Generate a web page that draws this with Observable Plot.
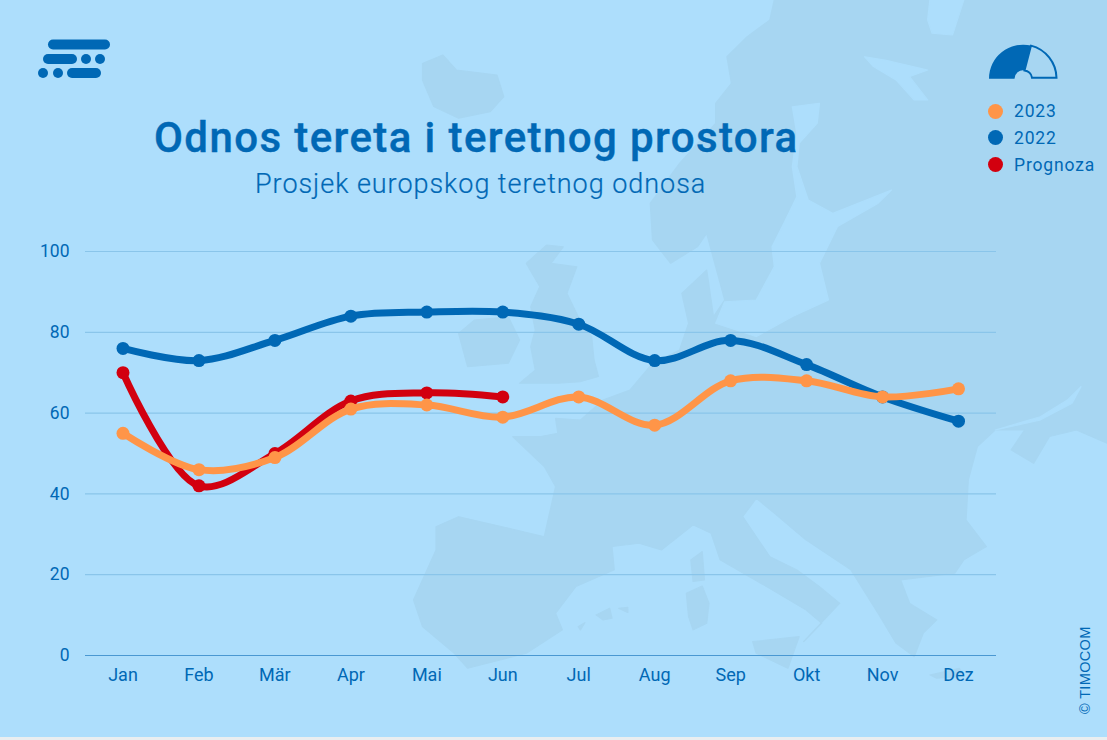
<!DOCTYPE html>
<html><head><meta charset="utf-8">
<script src="https://cdn.jsdelivr.net/npm/d3@7"></script>
<script src="https://cdn.jsdelivr.net/npm/@observablehq/plot@0.6"></script>
<style>
html,body{margin:0;padding:0;background:#e9eef0;overflow:hidden}
#page{position:relative;width:1107px;height:737px;background:#addefc;overflow:hidden;font-family:Roboto,sans-serif;color:#0068b5}
#page svg{position:absolute;left:0;top:0}
.t{position:absolute;white-space:nowrap;line-height:1}
#title{left:154px;top:117px;font-size:42px;font-weight:500;letter-spacing:1.4px;-webkit-text-stroke:.4px #0068b5}
#sub{left:255px;top:171px;font-size:27px;letter-spacing:.96px;font-weight:300;-webkit-text-stroke:.2px #0068b5}
.lg{left:1014px;font-size:17.5px;letter-spacing:.85px}
.dot{position:absolute;left:988px;width:15px;height:15px;border-radius:50%}
#copy{left:1085px;top:714px;font-size:14.5px;font-family:"Liberation Sans",sans-serif;transform-origin:0 0;transform:rotate(-90deg) translateY(-7px);letter-spacing:.35px}
</style></head><body>
<div id="page">
<svg id="map" width="1107" height="737"><g id="land" transform="translate(400,0) scale(0.451,0.3333)"></g></svg>
<svg id="logo" width="1107" height="120" fill="#0068b5">
<rect x="48" y="39.5" width="62" height="10" rx="5"/>
<rect x="43" y="54" width="34" height="10" rx="5"/><circle cx="86" cy="59" r="5"/><circle cx="100" cy="59" r="5"/>
<circle cx="43" cy="73" r="5"/><circle cx="58" cy="73" r="5"/><rect x="67" y="68" width="34" height="10" rx="5"/>
<path d="M989 78.7A34 34 0 0 1 1031 45.6L1024.5 70.5A8.5 8.5 0 0 0 1014.5 78.7Z"/>
<path d="M1031 45.6A34 34 0 0 1 1056.5 77.7L1032 77.7A8.5 8.5 0 0 0 1024.5 70.5Z" fill="none" stroke="#0068b5" stroke-width="2"/>
</svg>
<div id="chart"></div>
<div class="t" id="title">Odnos tereta i teretnog prostora</div>
<div class="t" id="sub">Prosjek europskog teretnog odnosa</div>
<div class="dot" style="top:104px;background:#ff9548"></div><div class="t lg" style="top:103px">2023</div>
<div class="dot" style="top:130px;background:#0068b5"></div><div class="t lg" style="top:130px">2022</div>
<div class="dot" style="top:157px;background:#d2000f"></div><div class="t lg" style="top:157px">Prognoza</div>
<div class="t" id="copy">© TIMOCOM</div>
</div>
<script>
const months = ["Jan","Feb","Mär","Apr","Mai","Jun","Jul","Aug","Sep","Okt","Nov","Dez"];
const values2023 = [55,46,49,61,62,59,64,57,68,68,64,66];
const values2022 = [76,73,78,84,85,85,82,73,78,72,64,58];
const valuesPrognoza = [70,42,50,63,65,64];
const yTicks = [0,20,40,60,80,100];
const blue = "#0068b5", orange = "#ff9548", red = "#d2000f";

const toRows = (vals) => vals.map((v,i) => ({month: months[i], value: v}));
const series = (vals, color) => [
  Plot.line(toRows(vals), {x:"month", y:"value", stroke:color, strokeWidth:7, curve:"catmull-rom"}),
  Plot.dot(toRows(vals), {x:"month", y:"value", fill:color, r:6.5})
];

const chart = Plot.plot({
  width:1107, height:737,
  marginLeft:85, marginRight:111, marginTop:251, marginBottom:82,
  style:{background:"transparent", fontFamily:"Roboto,sans-serif"},
  x:{type:"point", domain:months, range:[122.5,958], padding:0, round:false, label:null},
  y:{domain:[0,100], label:null},
  marks:[
    Plot.ruleY(yTicks.filter(d=>d>0), {stroke:"#8ac5ea", strokeWidth:1.2}),
    Plot.ruleY([0], {stroke:"#4a98d2", strokeWidth:1.2}),
    Plot.axisY({ticks:yTicks, tickSize:0, tickPadding:16, fontSize:17.5, fill:blue, label:null, marginLeft:85}),
    Plot.axisX({domain:months, tickSize:0, tickPadding:13, fontSize:18, fill:blue, label:null}),
    ...series(values2022, blue),
    ...series(valuesPrognoza, red),
    ...series(values2023, orange)
  ]
});
document.getElementById("chart").appendChild(chart);

// Decorative backdrop map of Europe, traced in the zoom's coordinate frame
const landFill = "#a7d6f2", seaFill = "#addefc";
const landShapes = [
 [[830,0],[820,60],[770,110],[725,170],[735,250],[700,310],[700,370],[620,490],[555,610],[560,720],[600,790],[660,740],[680,700],[700,800],[720,900],[695,950],[680,810],[625,880],[640,970],[620,1050],[560,1090],[510,1170],[450,1200],[400,1260],[345,1255],[350,1300],[310,1310],[250,1310],[320,1400],[345,1460],[320,1610],[130,1550],[80,1580],[80,1650],[30,1800],[50,1880],[120,1960],[150,2005],[280,1960],[360,1890],[345,1840],[390,1760],[475,1710],[470,1640],[530,1630],[580,1650],[650,1575],[690,1600],[710,1680],[800,1750],[900,1830],[935,1870],[895,1925],[940,1860],[975,1810],[930,1760],[880,1710],[820,1670],[760,1550],[790,1495],[830,1540],[900,1620],[1000,1710],[1060,1840],[1100,1930],[1140,1970],[1160,1900],[1190,1860],[1130,1810],[1110,1740],[1230,1720],[1250,1680],[1300,1640],[1255,1560],[1260,1440],[1280,1340],[1320,1290],[1385,1290],[1355,1350],[1405,1390],[1440,1310],[1500,1290],[1568,1330],[1568,0]],
 [[325,735],[362,740],[335,790],[392,800],[370,880],[395,950],[425,1010],[430,1080],[440,1130],[400,1145],[350,1150],[265,1150],[300,1110],[290,1040],[300,990],[290,920],[310,860],[280,790]],
 [[165,960],[240,950],[265,1020],[240,1090],[150,1100],[130,1000]],
 [[50,190],[95,165],[125,210],[215,225],[230,290],[200,335],[130,355],[75,320],[50,240]],
 [[645,1680],[670,1655],[675,1740],[650,1745]],
 [[635,1780],[670,1758],[685,1810],[680,1870],[650,1890],[640,1850]],
 [[435,1845],[465,1825],[470,1855],[450,1860]],
 [[485,1825],[505,1822],[505,1838]],
 [[395,1880],[410,1868],[400,1890]],
 [[782,1925],[885,1910],[860,2005],[790,1960]],
 [[1175,2025],[1240,2005],[1250,2030],[1190,2035]]
];
const seaShapes = [
 [[870,320],[930,310],[925,370],[885,430],[880,500],[905,600],[960,640],[1090,570],[1060,610],[970,680],[930,790],[950,900],[870,950],[790,1010],[700,970],[720,905],[790,900],[830,800],[825,740],[855,660],[880,590],[870,500],[880,400]],
 [[1030,170],[1075,180],[1170,210],[1130,230],[1170,300],[1140,300],[1100,240],[1050,200]],
 [[1175,0],[1250,0],[1225,105],[1180,100],[1170,60]],
 [[1510,1160],[1480,1200],[1420,1250],[1320,1290],[1420,1260],[1490,1210]]
];
const closed = d3.line().curve(d3.curveLinearClosed);
const land = d3.select("#land");
landShapes.forEach(s => land.append("path").attr("d", closed(s)).attr("fill", landFill).attr("stroke", landFill).attr("stroke-width", 3).attr("stroke-linejoin","round"));
seaShapes.forEach(s => land.append("path").attr("d", closed(s)).attr("fill", seaFill).attr("stroke", seaFill).attr("stroke-width", 3).attr("stroke-linejoin","round"));
</script>
</body></html>
